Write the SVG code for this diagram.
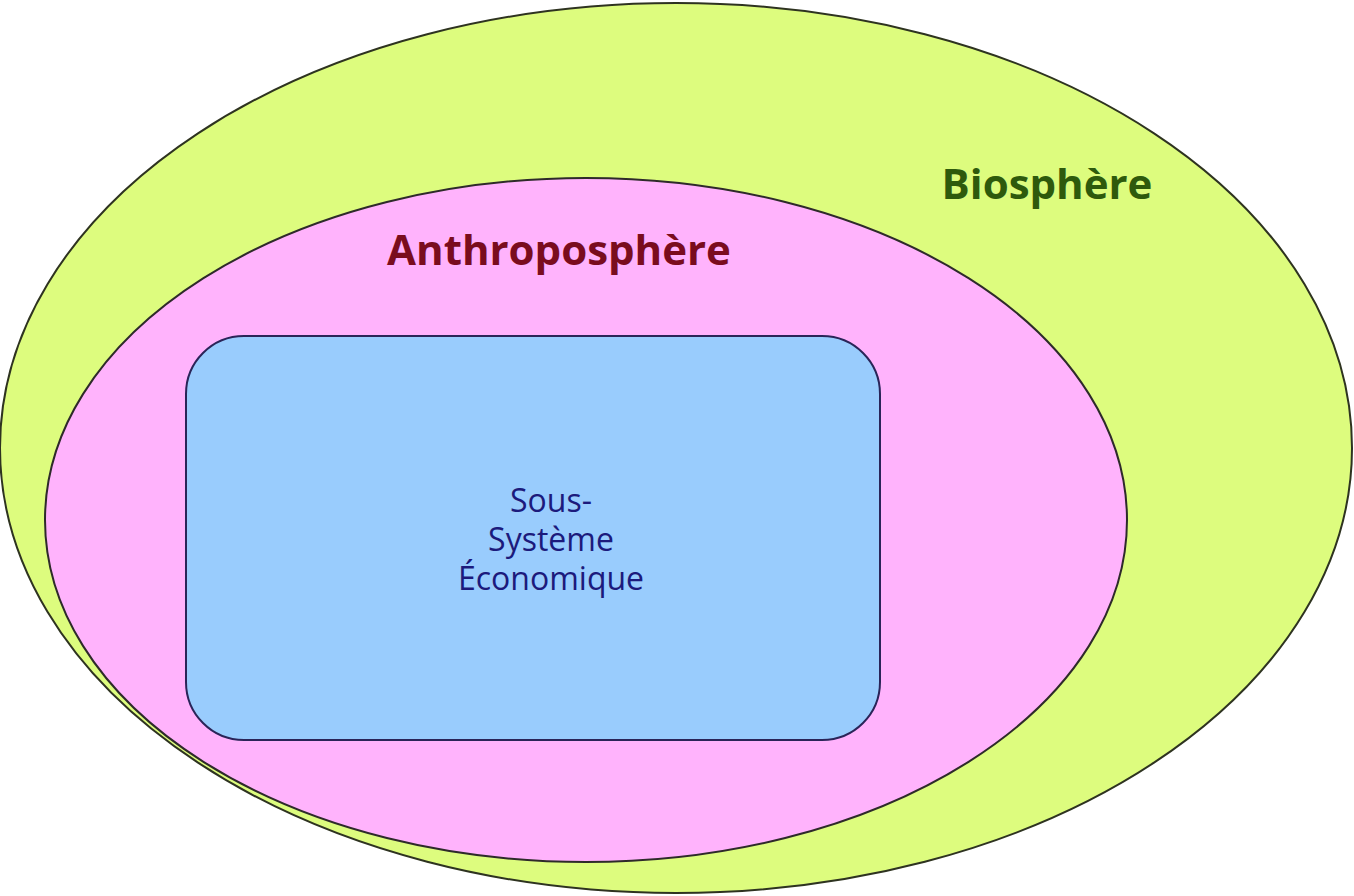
<svg xmlns="http://www.w3.org/2000/svg" width="1354" height="896" viewBox="0 0 1354 896">
<style>
.shape{stroke-width:2}
.lbl{font-family:"Open Sans","Liberation Sans",sans-serif;text-anchor:middle}
.eco{font-size:32px;fill:#1c1a7c}
</style>
<rect width="1354" height="896" fill="#ffffff"/>
<g id="biosphere">
<ellipse class="shape" cx="676" cy="448" rx="676" ry="445" fill="#ddfc7e" stroke="#2e3320"/>
<text class="lbl" x="1047" y="199" font-size="42" font-weight="bold" fill="#2e5a0c">Biosphère</text>
</g>
<g id="anthroposphere">
<ellipse class="shape" cx="586" cy="520" rx="541" ry="342" fill="#ffb3fc" stroke="#2e2a2a"/>
<text class="lbl" x="559" y="265" font-size="42" font-weight="bold" fill="#7a0c1e">Anthroposphère</text>
</g>
<g id="economie">
<rect class="shape" x="186" y="336" width="694" height="404" rx="58" ry="58" fill="#99ccfd" stroke="#2a2458"/>
<text class="lbl eco" x="551" y="512">Sous-</text>
<text class="lbl eco" x="551" y="551">Système</text>
<text class="lbl eco" x="551" y="590">Économique</text>
</g>
<g id="connectors"/>
</svg>
